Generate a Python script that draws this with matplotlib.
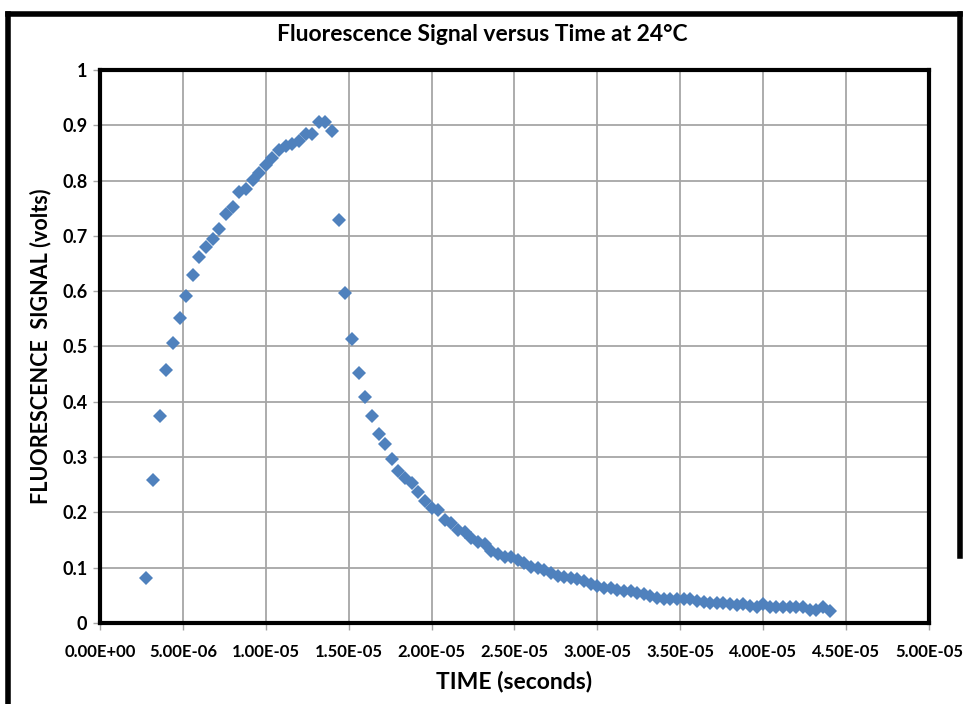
import numpy as np
import matplotlib.pyplot as plt
from matplotlib.lines import Line2D

# time samples (microseconds) and fluorescence signal (volts)
time_us = [2.8, 3.2, 3.6, 4.0, 4.4, 4.8, 5.2, 5.6, 6.0, 6.4,
           6.8, 7.2, 7.6, 8.0, 8.4, 8.8, 9.2, 9.6, 10.0, 10.4,
           10.8, 11.2, 11.6, 12.0, 12.4, 12.8, 13.2, 13.6, 14.0, 14.4,
           14.8, 15.2, 15.6, 16.0, 16.4, 16.8, 17.2, 17.6, 18.0, 18.4,
           18.8, 19.2, 19.6, 20.0, 20.4, 20.8, 21.2, 21.6, 22.0, 22.4,
           22.8, 23.2, 23.6, 24.0, 24.4, 24.8, 25.2, 25.6, 26.0, 26.4,
           26.8, 27.2, 27.6, 28.0, 28.4, 28.8, 29.2, 29.6, 30.0, 30.4,
           30.8, 31.2, 31.6, 32.0, 32.4, 32.8, 33.2, 33.6, 34.0, 34.4,
           34.8, 35.2, 35.6, 36.0, 36.4, 36.8, 37.2, 37.6, 38.0, 38.4,
           38.8, 39.2, 39.6, 40.0, 40.4, 40.8, 41.2, 41.6, 42.0, 42.4,
           42.8, 43.2, 43.6, 44.0]
signal = [0.082, 0.259, 0.375, 0.457, 0.507, 0.552, 0.591, 0.630, 0.662, 0.679,
          0.694, 0.713, 0.740, 0.752, 0.780, 0.784, 0.801, 0.813, 0.829, 0.840,
          0.856, 0.862, 0.867, 0.872, 0.885, 0.885, 0.906, 0.906, 0.889, 0.728,
          0.596, 0.513, 0.452, 0.408, 0.374, 0.341, 0.324, 0.296, 0.274, 0.263,
          0.254, 0.236, 0.220, 0.208, 0.204, 0.187, 0.181, 0.169, 0.165, 0.153,
          0.147, 0.142, 0.131, 0.125, 0.119, 0.120, 0.114, 0.108, 0.102, 0.099,
          0.096, 0.091, 0.085, 0.084, 0.082, 0.080, 0.075, 0.070, 0.067, 0.064,
          0.063, 0.060, 0.058, 0.058, 0.055, 0.052, 0.049, 0.046, 0.043, 0.043,
          0.043, 0.043, 0.043, 0.040, 0.038, 0.037, 0.037, 0.037, 0.034, 0.033,
          0.034, 0.031, 0.029, 0.034, 0.029, 0.028, 0.028, 0.028, 0.028, 0.028,
          0.023, 0.023, 0.029, 0.022]

xticks = [0, 5e-6, 1e-5, 1.5e-5, 2e-5, 2.5e-5, 3e-5, 3.5e-5, 4e-5, 4.5e-5, 5e-5]
xlabels = ['0.00E+00', '5.00E-06', '1.00E-05', '1.50E-05', '2.00E-05', '2.50E-05',
           '3.00E-05', '3.50E-05', '4.00E-05', '4.50E-05', '5.00E-05']
yticks = [0, 0.1, 0.2, 0.3, 0.4, 0.5, 0.6, 0.7, 0.8, 0.9, 1]
ylabels = ['0', '0.1', '0.2', '0.3', '0.4', '0.5', '0.6', '0.7', '0.8', '0.9', '1']

plt.rcParams['font.family'] = ['Lato', 'DejaVu Sans']
plt.rcParams['font.weight'] = 'bold'

fig = plt.figure(figsize=(9.65, 7.04), dpi=100)
ax = fig.add_axes([0.1036, 0.1151, 0.8591, 0.7855])

t = np.array(time_us) * 1e-6
ax.plot(t, signal, 'D', color='#4f81bd', markersize=7, markeredgewidth=0, zorder=3)

ax.set_xlim(0, 5e-5)
ax.set_ylim(0, 1)
ax.set_xticks(xticks)
ax.set_xticklabels(xlabels)
ax.set_yticks(yticks)
ax.set_yticklabels(ylabels)
ax.grid(True, color='#a6a6a6', linewidth=1.3)
ax.set_axisbelow(True)
ax.tick_params(axis='both', length=5, width=1, color='#a6a6a6', labelsize=12, pad=4)
ax.tick_params(axis='y', labelsize=13)
ax.tick_params(axis='x', pad=10)
for s in ax.spines.values():
    s.set_linewidth(3)
    s.set_color('black')

fig.text(0.5, 0.951, 'Fluorescence Signal versus Time at 24\u00b0C', fontsize=16.5,
         fontweight='bold', ha='center', va='center')
ax.set_xlabel('TIME (seconds)', fontsize=16.5, fontweight='bold', labelpad=8)
ax.set_ylabel('FLUORESCENCE  SIGNAL (volts)', fontsize=15.5, fontweight='bold', labelpad=8)

# outer frame (bottom edge cropped in the original)
fig.add_artist(Line2D([0.0085, 0.0085], [0, 0.98], transform=fig.transFigure, color='black', linewidth=4))
fig.add_artist(Line2D([0.0085, 0.9948], [0.98, 0.98], transform=fig.transFigure, color='black', linewidth=4))
fig.add_artist(Line2D([0.9948, 0.9948], [0.21, 0.98], transform=fig.transFigure, color='black', linewidth=4))

fig.savefig('out.png', dpi=100)
